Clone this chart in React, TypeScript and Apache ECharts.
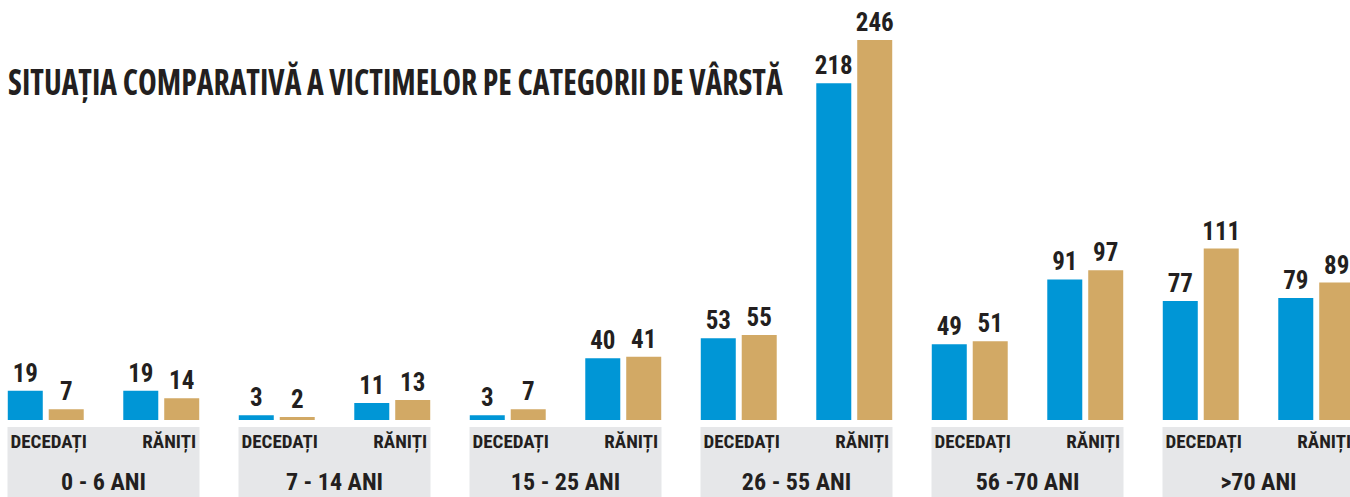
import React, { useEffect, useRef } from "react";
import * as echarts from "echarts";

const titleText = "SITUAȚIA COMPARATIVĂ A VICTIMELOR PE CATEGORII DE VÂRSTĂ";
const ageGroups = ["0 - 6 ANI", "7 - 14 ANI", "15 - 25 ANI", "26 - 55 ANI", "56 -70 ANI", ">70 ANI"];
const subGroups = ["DECEDAȚI", "RĂNIȚI"];
// order: for each age group -> DECEDAȚI, RĂNIȚI
const blueValues = [19, 19, 3, 11, 3, 40, 53, 218, 49, 91, 77, 79];
const tanValues = [7, 14, 2, 13, 7, 41, 55, 246, 51, 97, 111, 89];
const panelValues = [1, 1, 1, 1, 1, 1];

const TITLE_FAMILY = "'Open Sans', 'Roboto Condensed', sans-serif";
const LABEL_FAMILY = "'Roboto Condensed', 'Open Sans', sans-serif";
const INK = "#231f20";
const BLUE = "#0096d6";
const TAN = "#d2a965";
const PANEL = "#e6e7e9";
const SHIFT = 12;
const TITLE_SIZE = 35;
const TITLE_WIDTH = 775;

function measure(text: string, font: string): number {
  const c = document.createElement("canvas").getContext("2d");
  if (!c) return text.length * 14;
  c.font = font;
  return c.measureText(text).width;
}

export default function App() {
  const ref = useRef<HTMLDivElement>(null);

  useEffect(() => {
    if (!ref.current) return;
    const chart = echarts.init(ref.current, undefined, { renderer: "svg" });
    const categories = ageGroups.flatMap((a) => subGroups.map((s) => `${a}|${s}`));
    const titleFont = `bold condensed ${TITLE_SIZE}px ${TITLE_FAMILY}`;
    const titleScale = TITLE_WIDTH / measure(titleText, titleFont);

    const valueLabel = {
      show: true,
      position: "top",
      distance: 5,
      fontFamily: LABEL_FAMILY,
      fontWeight: "bold",
      fontSize: 25,
      color: INK,
    };

    chart.setOption({
      animation: false,
      backgroundColor: "#ffffff",
      graphic: [
        {
          type: "text",
          x: 8 + SHIFT,
          y: 64,
          scaleX: titleScale,
          style: {
            text: titleText,
            font: titleFont,
            fill: INK,
            verticalAlign: "top",
          },
        },
      ],
      grid: [
        { left: 0, right: 0, top: 40, bottom: 77 },
        { left: 0, right: 0, top: 427, bottom: 0 },
      ],
      xAxis: [
        {
          type: "category",
          gridIndex: 0,
          data: categories,
          z: 10,
          axisLine: { show: false },
          axisTick: { show: false },
          axisLabel: {
            interval: 0,
            margin: 12,
            formatter: (v: string) => {
              const s = v.split("|")[1];
              return s === subGroups[1] ? `{r|${s}}` : `{d|${s}}`;
            },
            rich: {
              d: { fontFamily: LABEL_FAMILY, fontWeight: "bold", fontSize: 19, color: INK, padding: [0, 0, 0, 6] },
              r: { fontFamily: LABEL_FAMILY, fontWeight: "bold", fontSize: 19, color: INK, padding: [0, 0, 0, 16] },
            },
          },
        },
        {
          type: "category",
          gridIndex: 1,
          data: ageGroups,
          axisLine: { show: false },
          axisTick: { show: false },
          axisLabel: { show: false },
        },
      ],
      yAxis: [
        { type: "value", gridIndex: 0, min: 0, max: 246, show: false },
        { type: "value", gridIndex: 1, min: 0, max: 1, show: false },
      ],
      series: [
        {
          type: "bar",
          name: "serie 1",
          xAxisIndex: 0,
          yAxisIndex: 0,
          data: blueValues,
          barWidth: 35,
          barGap: "17%",
          itemStyle: { color: BLUE },
          label: valueLabel,
        },
        {
          type: "bar",
          name: "serie 2",
          xAxisIndex: 0,
          yAxisIndex: 0,
          data: tanValues,
          barWidth: 35,
          barGap: "17%",
          itemStyle: { color: TAN },
          label: valueLabel,
        },
        {
          type: "bar",
          name: "grupe",
          xAxisIndex: 1,
          yAxisIndex: 1,
          data: panelValues,
          barWidth: 192,
          silent: true,
          itemStyle: { color: PANEL },
          label: {
            show: true,
            position: "insideBottom",
            distance: 3,
            formatter: "{b}",
            fontFamily: LABEL_FAMILY,
            fontWeight: "bold",
            fontSize: 24,
            color: INK,
          },
        },
      ],
    });

    return () => chart.dispose();
  }, []);

  return (
    <div
      style={{
        position: "absolute",
        left: 0,
        top: 0,
        width: 1350,
        height: 497,
        overflow: "hidden",
      }}
    >
      <div
        ref={ref}
        style={{ position: "absolute", left: -SHIFT, top: 0, width: 12 * 115.5, height: 497 }}
      />
    </div>
  );
}
